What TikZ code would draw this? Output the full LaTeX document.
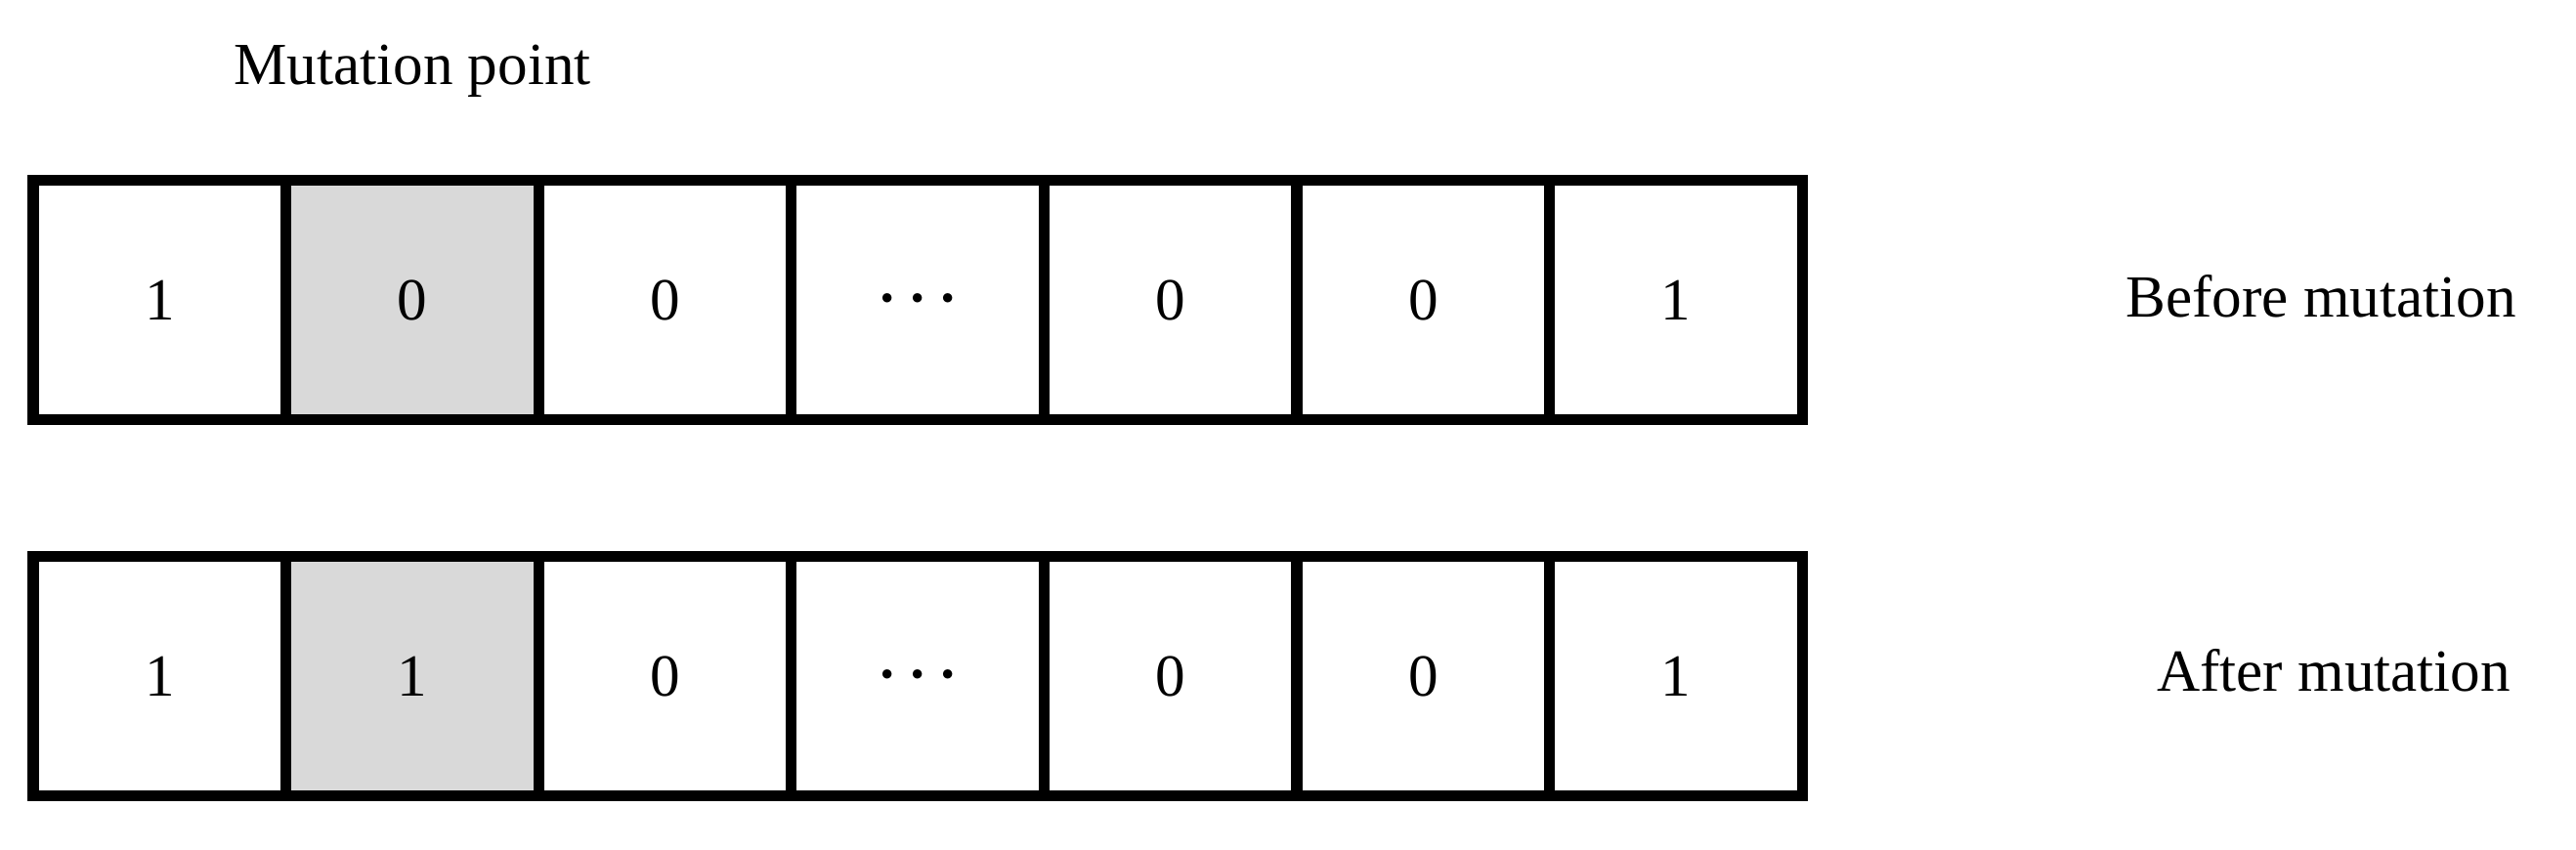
\documentclass[tikz,border=0pt]{standalone}
\usepackage{fontspec}
\setmainfont{Liberation Serif}

\tikzset{
  gene/.style={draw, line width=3.2pt, minimum width=2.586cm, minimum height=2.45cm,
    inner sep=0pt, font=\fontsize{17.4}{20}\selectfont},
  mutated/.style={gene, fill=black!15},
  caption/.style={anchor=base, font=\fontsize{17.4}{20}\selectfont}
}
\newcommand{\middots}{$\vcenter{\hbox{\boldmath$\cdots$}}$}

\begin{document}
\begin{tikzpicture}
	\useasboundingbox (0,0) rectangle (26.36,8.69);
	% chromosome before mutation
	\foreach \bit/\sty [count=\i] in {1/gene,0/mutated,0/gene,\middots/gene,0/gene,0/gene,1/gene}
		\node[\sty] (b\i) at ({0.34+2.586*(\i-0.5)},5.62) {\bit};
	% chromosome after mutation
	\foreach \bit/\sty [count=\i] in {1/gene,1/mutated,0/gene,\middots/gene,0/gene,0/gene,1/gene}
		\node[\sty] (a\i) at ({0.34+2.586*(\i-0.5)},1.77) {\bit};
	\node[caption] (mpoint) at (4.22,7.82) {Mutation point};
	\node[caption] (before) at (23.75,5.44) {Before mutation};
	\node[caption] (after) at (23.88,1.61) {After mutation};
\end{tikzpicture}
\end{document}
